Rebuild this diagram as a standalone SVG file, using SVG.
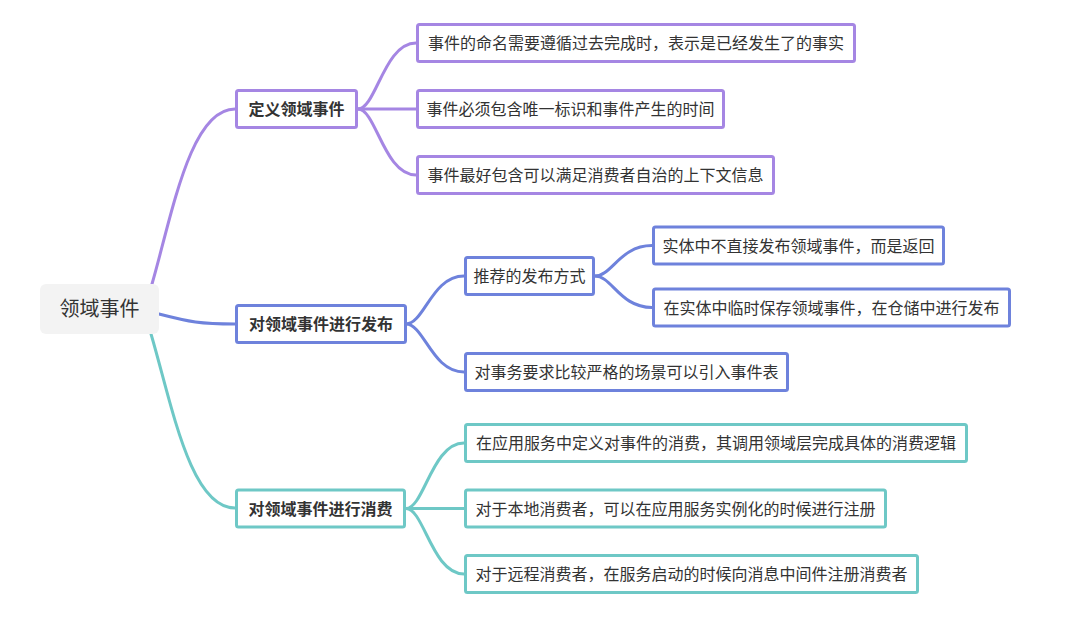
<svg xmlns="http://www.w3.org/2000/svg" width="1080" height="621" viewBox="0 0 1080 621">
<style>
.bg{fill:#ffffff}
.lnk{fill:none;stroke-width:3;stroke-linecap:round}
.p{stroke:#a586e3}
.b{stroke:#6e82dc}
.t{stroke:#6ec8c6}
.box{fill:#ffffff;stroke-width:3}
.txt{font-family:"Noto Sans CJK SC","Noto Sans",sans-serif;font-size:16px;fill:#333333;text-anchor:middle}
.bold{font-weight:bold}
.root{font-family:"Noto Sans CJK SC","Noto Sans",sans-serif;font-size:20px;fill:#333333;text-anchor:middle}
</style>
<rect class="bg" x="0" y="0" width="1080" height="621"/>
<g id="connectors">
  <path class="lnk p" d="M152 284 C172 215 190 109 235 109"/>
  <path class="lnk b" d="M159 314 C190 322 200 324 235 324"/>
  <path class="lnk t" d="M151 334 C172 405 190 508 235 508"/>
  <path class="lnk p" d="M358 109 C376 109 384 43 416 43"/>
  <path class="lnk p" d="M358 109 L416 109"/>
  <path class="lnk p" d="M358 109 C376 109 384 175 416 175"/>
  <path class="lnk b" d="M406 324 C424 324 432 276 464 276"/>
  <path class="lnk b" d="M406 324 C424 324 432 372 464 372"/>
  <path class="lnk b" d="M595 276 C612 276 620 245.5 652 245.5"/>
  <path class="lnk b" d="M595 276 C612 276 620 307.5 652 307.5"/>
  <path class="lnk t" d="M406 508.5 C424 508.5 432 443 464 443"/>
  <path class="lnk t" d="M406 508.5 L464 508.5"/>
  <path class="lnk t" d="M406 508.5 C424 508.5 432 574 464 574"/>
</g>
<g id="root">
  <rect x="40" y="284" width="119" height="50" rx="6" fill="#f3f3f3"/>
  <text class="root" x="99.5" y="316">领域事件</text>
</g>
<g id="n-define">
  <rect class="box p" x="236.5" y="90.5" width="120" height="37" rx="2"/>
  <text class="txt bold" x="296.5" y="115">定义领域事件</text>
</g>
<g id="n-publish">
  <rect class="box b" x="236.5" y="305.5" width="169" height="37" rx="2"/>
  <text class="txt bold" x="321" y="330">对领域事件进行发布</text>
</g>
<g id="n-consume">
  <rect class="box t" x="236.5" y="490" width="168" height="37" rx="2"/>
  <text class="txt bold" x="320.5" y="514.5">对领域事件进行消费</text>
</g>
<g id="n-define-1">
  <rect class="box p" x="417.5" y="24.5" width="437" height="37" rx="2"/>
  <text class="txt" x="636" y="49">事件的命名需要遵循过去完成时，表示是已经发生了的事实</text>
</g>
<g id="n-define-2">
  <rect class="box p" x="417.5" y="90.5" width="306" height="37" rx="2"/>
  <text class="txt" x="570.5" y="115">事件必须包含唯一标识和事件产生的时间</text>
</g>
<g id="n-define-3">
  <rect class="box p" x="417.5" y="156.5" width="356" height="37" rx="2"/>
  <text class="txt" x="595.5" y="181">事件最好包含可以满足消费者自治的上下文信息</text>
</g>
<g id="n-recommend">
  <rect class="box b" x="465.5" y="257.5" width="128" height="37" rx="2"/>
  <text class="txt" x="529.5" y="282">推荐的发布方式</text>
</g>
<g id="n-recommend-1">
  <rect class="box b" x="653.5" y="227" width="290" height="37" rx="2"/>
  <text class="txt" x="798.5" y="251.5">实体中不直接发布领域事件，而是返回</text>
</g>
<g id="n-recommend-2">
  <rect class="box b" x="653.5" y="289" width="356" height="37" rx="2"/>
  <text class="txt" x="831.5" y="313.5">在实体中临时保存领域事件，在仓储中进行发布</text>
</g>
<g id="n-publish-2">
  <rect class="box b" x="465.5" y="353.5" width="322" height="37" rx="2"/>
  <text class="txt" x="626.5" y="378">对事务要求比较严格的场景可以引入事件表</text>
</g>
<g id="n-consume-1">
  <rect class="box t" x="465.5" y="424.5" width="501" height="37" rx="2"/>
  <text class="txt" x="716" y="449">在应用服务中定义对事件的消费，其调用领域层完成具体的消费逻辑</text>
</g>
<g id="n-consume-2">
  <rect class="box t" x="465.5" y="490" width="420" height="37" rx="2"/>
  <text class="txt" x="675.5" y="514.5">对于本地消费者，可以在应用服务实例化的时候进行注册</text>
</g>
<g id="n-consume-3">
  <rect class="box t" x="465.5" y="555.5" width="452" height="37" rx="2"/>
  <text class="txt" x="691.5" y="580">对于远程消费者，在服务启动的时候向消息中间件注册消费者</text>
</g>
</svg>
